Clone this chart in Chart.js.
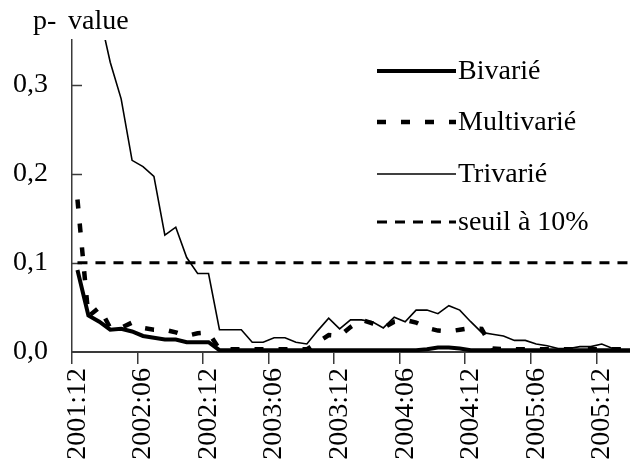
<!DOCTYPE html>
<html>
<head>
<meta charset="utf-8">
<script src="https://cdn.jsdelivr.net/npm/chart.js@4.4.1/dist/chart.umd.min.js"></script>
<style>
  html, body { margin: 0; padding: 0; background: #fff; overflow: hidden; }
  #wrap { width: 630px; height: 472px; overflow: hidden; }
</style>
</head>
<body>
<div id="wrap"><canvas id="pvalChart" width="640" height="472"></canvas></div>
<script>
// months 2001:12 .. 2006:03
const months = [
    '2001:12',
    '2002:01', '2002:02', '2002:03', '2002:04', '2002:05', '2002:06',
    '2002:07', '2002:08', '2002:09', '2002:10', '2002:11', '2002:12',
    '2003:01', '2003:02', '2003:03', '2003:04', '2003:05', '2003:06',
    '2003:07', '2003:08', '2003:09', '2003:10', '2003:11', '2003:12',
    '2004:01', '2004:02', '2004:03', '2004:04', '2004:05', '2004:06',
    '2004:07', '2004:08', '2004:09', '2004:10', '2004:11', '2004:12',
    '2005:01', '2005:02', '2005:03', '2005:04', '2005:05', '2005:06',
    '2005:07', '2005:08', '2005:09', '2005:10', '2005:11', '2005:12',
    '2006:01', '2006:02', '2006:03'
];

const bivarie = [
    0.092, 0.041, 0.034, 0.025, 0.026, 0.023, 0.018, 0.016, 0.014, 0.014, 0.011, 0.011, 0.011,
    0.002, 0.002, 0.002, 0.002, 0.002, 0.002, 0.002, 0.002, 0.002, 0.002, 0.002, 0.002,
    0.002, 0.002, 0.002, 0.002, 0.002, 0.002, 0.002, 0.003, 0.005, 0.005, 0.004, 0.002,
    0.002, 0.002, 0.002, 0.002, 0.002, 0.002, 0.002, 0.002, 0.002, 0.002, 0.002, 0.002,
    0.002, 0.002, 0.002
];

const multivarie = [
    0.171, 0.040, 0.050, 0.027, 0.027, 0.033, 0.027, 0.025, 0.025, 0.022, 0.018, 0.021, 0.022,
    0.003, 0.003, 0.003, 0.003, 0.003, 0.003, 0.003, 0.003, 0.003, 0.011, 0.019, 0.018,
    0.028, 0.036, 0.032, 0.027, 0.034, 0.036, 0.033, 0.027, 0.024, 0.023, 0.025, 0.027,
    0.026, 0.004, 0.003, 0.003, 0.003, 0.003, 0.003, 0.003, 0.003, 0.003, 0.003, 0.003,
    0.003, 0.003, 0.003
];

const trivarie = [
    0.550, 0.460, 0.380, 0.325, 0.284, 0.215, 0.208, 0.197, 0.131, 0.140, 0.106, 0.088, 0.088,
    0.025, 0.025, 0.025, 0.011, 0.011, 0.016, 0.016, 0.011, 0.009, 0.024, 0.038, 0.026,
    0.036, 0.036, 0.034, 0.027, 0.039, 0.034, 0.047, 0.047, 0.043, 0.052, 0.047, 0.034,
    0.022, 0.020, 0.018, 0.013, 0.013, 0.009, 0.007, 0.004, 0.004, 0.006, 0.006, 0.009,
    0.004, 0.002, 0.002
];

const SEUIL = 0.1;
const yTicks = [0, 0.1, 0.2, 0.3];

const FONT = { family: "'Liberation Serif', 'Times New Roman', serif", size: 28 };
const AXIS_COLOR = '#3a3a3a';

// legend drawn inside the plot, like the original
const overlayPlugin = {
    id: 'overlay',
    beforeDatasetsDraw(chart) {
        const { ctx, chartArea, scales } = chart;
        ctx.save();
        ctx.strokeStyle = AXIS_COLOR;
        ctx.lineWidth = 1.5;
        yTicks.forEach(v => {
            if (v === 0) return;
            const y = Math.round(scales.y.getPixelForValue(v)) + 0.5;
            ctx.beginPath();
            ctx.moveTo(chartArea.left, y);
            ctx.lineTo(chartArea.left + 10, y);
            ctx.stroke();
        });
        ctx.restore();
    },
    afterDraw(chart) {
        const ctx = chart.ctx;
        ctx.save();
        ctx.fillStyle = '#000';
        ctx.font = FONT.size + 'px ' + FONT.family;
        ctx.textAlign = 'left';
        ctx.textBaseline = 'alphabetic';
        // axis title, "p-" and "value" a little apart as in the original
        ctx.fillText('p-', 33, 29);
        ctx.fillText('value', 68, 29);

        const rows = [71, 122, 174, 222];
        const legendDash = [[], [9, 15], [], [10, 8]];
        chart.data.datasets.forEach((ds, i) => {
            const y = rows[i];
            ctx.strokeStyle = '#000';
            ctx.lineWidth = ds.borderWidth;
            ctx.setLineDash(legendDash[i]);
            ctx.beginPath();
            ctx.moveTo(377, y);
            ctx.lineTo(456, y);
            ctx.stroke();
            ctx.setLineDash([]);
            ctx.textBaseline = 'middle';
            ctx.fillText(ds.label, 458, y + 1);
        });
        ctx.restore();
    }
};

const ctx = document.getElementById('pvalChart').getContext('2d');
new Chart(ctx, {
    type: 'line',
    data: {
        labels: months,
        datasets: [
            { label: 'Bivarié', data: bivarie, borderColor: '#000', borderWidth: 4, pointRadius: 0, tension: 0 },
            { label: 'Multivarié', data: multivarie, borderColor: '#000', borderWidth: 4.5, borderDash: [9, 15], pointRadius: 0, tension: 0 },
            { label: 'Trivarié', data: trivarie, borderColor: '#000', borderWidth: 1.6, pointRadius: 0, tension: 0 },
            {
                label: 'seuil à 10%',
                data: [{ x: months[0], y: SEUIL }, { x: months[months.length - 1], y: SEUIL }],
                borderColor: '#000', borderWidth: 3, borderDash: [10, 8], pointRadius: 0
            }
        ]
    },
    options: {
        responsive: false,
        animation: false,
        devicePixelRatio: 1,
        layout: { padding: { top: 40, left: 0, right: 0, bottom: 0 } },
        plugins: {
            legend: { display: false },
            tooltip: { enabled: false },
            title: { display: false }
        },
        scales: {
            x: {
                type: 'category',
                offset: true,
                grid: {
                    offset: true,
                    drawOnChartArea: false,
                    drawTicks: true,
                    tickLength: 12,
                    lineWidth: 1.5,
                    color: c => (c.index % 6 === 0 ? AXIS_COLOR : 'rgba(0,0,0,0)')
                },
                border: { display: true, color: AXIS_COLOR, width: 2 },
                ticks: {
                    autoSkip: false,
                    minRotation: 90,
                    maxRotation: 90,
                    padding: 4,
                    color: '#000',
                    font: FONT,
                    callback: function (val, i) { return i % 6 === 0 ? this.getLabelForValue(val) : ''; }
                },
                afterFit(scale) {
                    scale.height = 120;
                    scale.paddingLeft = 0;
                    scale.paddingRight = 0;
                }
            },
            y: {
                min: 0,
                max: 0.35,
                grid: { display: false, drawTicks: false },
                border: { display: true, color: AXIS_COLOR, width: 1.5 },
                ticks: {
                    stepSize: 0.1,
                    padding: 24,
                    color: '#000',
                    font: FONT,
                    callback: v => v.toFixed(1).replace('.', ',')
                },
                afterBuildTicks(scale) {
                    scale.ticks = yTicks.map(v => ({ value: v }));
                },
                afterFit(scale) {
                    scale.width = 72;
                    scale.paddingTop = 0;
                    scale.paddingBottom = 0;
                }
            }
        }
    },
    plugins: [overlayPlugin]
});
</script>
</body>
</html>
